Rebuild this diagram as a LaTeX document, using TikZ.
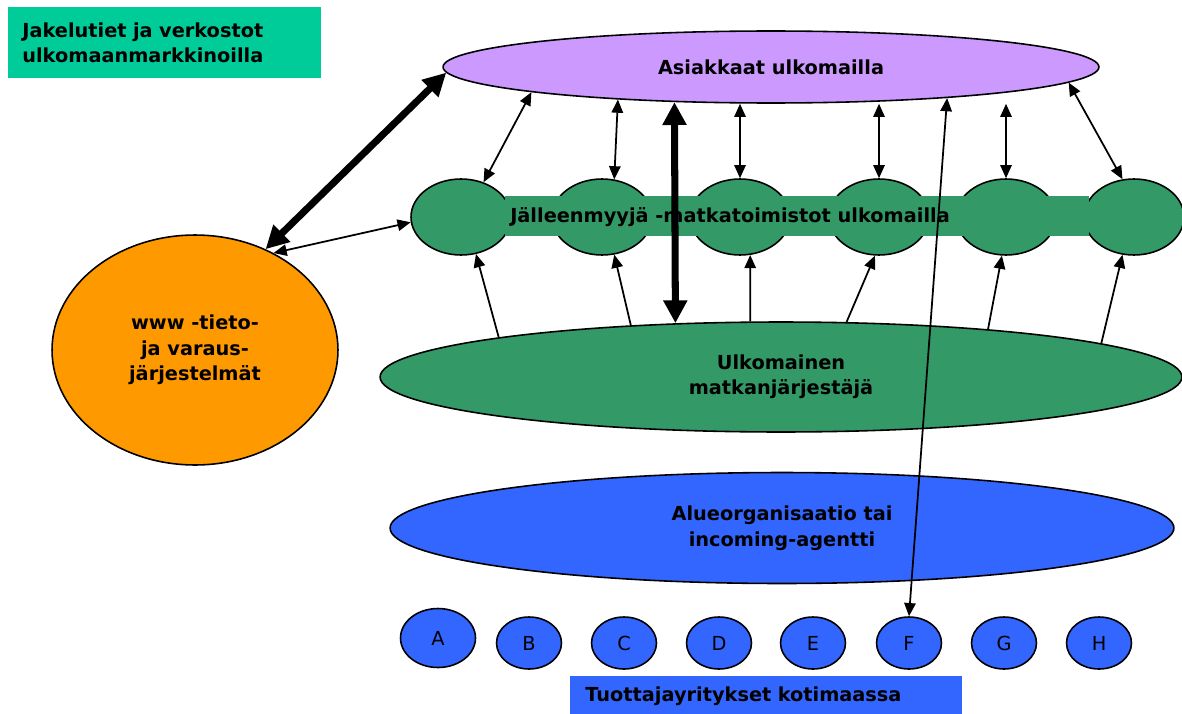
\documentclass[tikz,border=0pt]{standalone}
\usepackage{fontspec}
\setmainfont{DejaVu Sans}
\usetikzlibrary{arrows.meta,shapes.geometric}
\definecolor{jadeGreen}{HTML}{00CC99}
\definecolor{lilac}{HTML}{CC99FF}
\definecolor{seaGreen}{HTML}{339966}
\definecolor{amber}{HTML}{FF9900}
\definecolor{royalBlue}{HTML}{3366FF}

\begin{document}
\begin{tikzpicture}[x=0.02cm, y=-0.02cm,
      oval/.style={ellipse, draw, line width=0.9pt, inner sep=0pt, align=center,
                   font=\bfseries\fontsize{11}{14.5}\selectfont},
      office/.style={ellipse, draw, line width=0.9pt, fill=seaGreen,
                     minimum width=2cm, minimum height=1.52cm},
      firm/.style={ellipse, draw, line width=0.9pt, fill=royalBlue, inner sep=0pt,
                   minimum width=1.3cm, minimum height=1.04cm, font=\fontsize{11}{13}\selectfont},
      caption/.style={rectangle, anchor=north west, inner ysep=0pt, align=left,
                      font=\bfseries\fontsize{11}{14}\selectfont},
      link/.style={{Triangle[length=7.5pt,width=6.5pt]}-{Triangle[length=7.5pt,width=6.5pt]}, line width=1pt},
      feed/.style={-{Triangle[length=7.5pt,width=6.5pt]}, line width=1pt},
      mainlink/.style={{Triangle[length=13pt,width=13pt]}-{Triangle[length=13pt,width=13pt]}, line width=4pt}]
      \useasboundingbox (0,0) rectangle (1182,713);
      \node[caption, fill=jadeGreen, inner xsep=0.28cm, text width=5.7cm, minimum height=1.42cm] (jakelu) at (8,7) {Jakelutiet ja verkostot\\ulkomaanmarkkinoilla};
      \node[oval, fill=lilac, minimum width=13.12cm, minimum height=1.44cm] (asiakkaat) at (771,67) {Asiakkaat ulkomailla};
      \foreach \x [count=\i] in {461,602,740,879,1006,1134}
        \node[office] (office\i) at (\x,217) {};
      \node[rectangle, fill=seaGreen, minimum width=11.7cm, minimum height=0.82cm] (band) at (797,216) {};
      \node[font=\bfseries\fontsize{11}{13}\selectfont] (bandtext) at (730,217) {Jälleenmyyjä -matkatoimistot ulkomailla};
      \node[oval, fill=amber, minimum width=5.72cm, minimum height=4.6cm] (www) at (195,350) {www -tieto-\\ja varaus-\\järjestelmät};
      \node[oval, fill=seaGreen, minimum width=16.04cm, minimum height=2.2cm] (matkanj) at (781,377) {Ulkomainen\\matkanjärjestäjä};
      \node[oval, fill=royalBlue, minimum width=15.68cm, minimum height=2.22cm] (alue) at (782,528) {Alueorganisaatio tai\\incoming-agentti};
      \node[firm, minimum width=1.5cm, minimum height=1.18cm] (firmA) at (438,638) {A};
      \foreach \l/\x in {B/529,C/624,D/719,E/813,F/909,G/1004,H/1099}
        \node[firm] (firm\l) at (\x,643) {\l};
      \node[caption, fill=royalBlue, inner xsep=0.3cm, text width=7.24cm, minimum height=0.78cm] (tuottaja) at (570,676) {Tuottajayritykset kotimaassa};
      \draw[mainlink] (www.55) -- (asiakkaat.181);
      \draw[link] (www.51) -- (office1.186);
      \draw[link] (office1.57) -- (asiakkaat.186);
      \draw[link] (office2.72) -- (asiakkaat.192);
      \foreach \i in {3,4,5}
        \draw[link] (office\i.north) -- (office\i.north |- asiakkaat.south);
      \draw[link] (office6.107) -- (asiakkaat.357);
      \foreach \i/\a/\b in {1/172/292, 2/161/288, 3/119/285, 4/40/264, 5/13/264, 6/6/253}
        \draw[feed] (matkanj.\a) -- (office\i.\b);
      \draw[mainlink] (asiakkaat.200) -- (matkanj.153);
      \draw[link] (firmF.north) -- (asiakkaat.350.5);
    \end{tikzpicture}
\end{document}
